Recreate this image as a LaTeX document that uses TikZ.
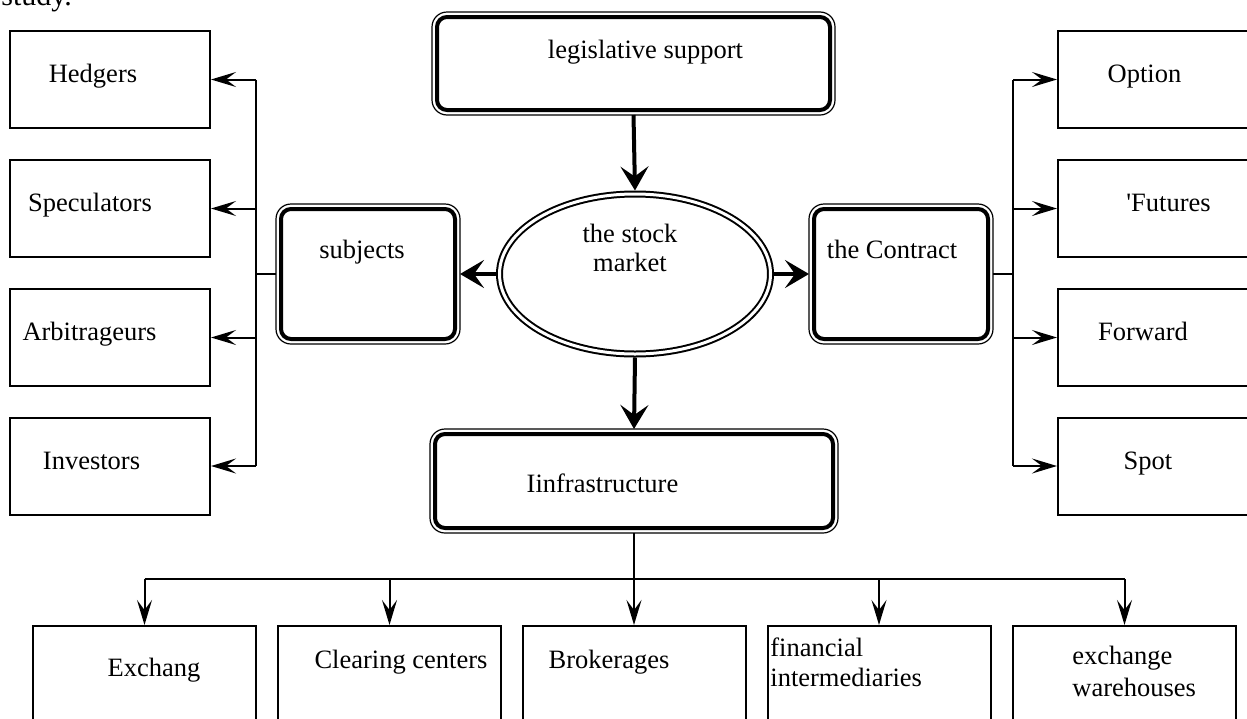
\documentclass[tikz,border=0pt]{standalone}
\usepackage{fontspec}
\setmainfont{Liberation Serif}
\usetikzlibrary{arrows.meta,shapes.geometric}
\begin{document}
\begin{tikzpicture}[x=0.5pt,y=-0.5pt,
  every node/.style={font=\fontsize{13.25pt}{15.9pt}\selectfont},
  txt/.style={anchor=base, inner sep=0pt},
  txtl/.style={anchor=base west, inner sep=0pt},
  plainbox/.style={draw, line width=1pt, minimum width=100pt, minimum height=48.5pt, inner sep=0pt},
  botbox/.style={draw, line width=1pt, minimum width=111.5pt, minimum height=90pt, inner sep=0pt},
  dblbox/.style={draw, line width=2pt, rounded corners=5pt, inner sep=0pt, outer sep=2.5pt},
  outerline/.style={line width=0.6pt, rounded corners=7.5pt},
  ellbox/.style={ellipse, draw, line width=1pt, double, double distance=1.5pt, inner sep=0pt,
    minimum width=135.5pt, minimum height=80pt, outer sep=1.75pt},
  thinarrow/.style={line width=1pt, -{Stealth[length=12.5pt,width=7.5pt,inset=5pt]}},
  thickarrow/.style={line width=2pt, -{Stealth[length=12pt,width=14pt,inset=5pt]}},
  wire/.style={line width=1pt},
  stub/.style={line width=0.7pt},
]
\useasboundingbox (0,0) rectangle (1247,718);
\clip (0,0) rectangle (1247,718);

% caption fragment
\node[txtl, font=\fontsize{15pt}{18pt}\selectfont] (study) at (1,5) {study.};

% central elements
\node[dblbox, minimum width=196.5pt, minimum height=46.5pt] (leg) at (633.5,63.5) {};
\draw[outerline] (leg.north west) rectangle (leg.south east);
\node[txt] (legt) at (645.5,58) {legislative support};

\node[ellbox] (ell) at (635,274) {};
\node[txt] (ellt1) at (630,242) {the stock};
\node[txt] (ellt2) at (630,271) {market};

\node[dblbox, minimum width=87pt, minimum height=65pt] (subj) at (368,274) {};
\draw[outerline] (subj.north west) rectangle (subj.south east);
\node[txt] (subjt) at (362,258) {subjects};

\node[dblbox, minimum width=87pt, minimum height=65pt] (contr) at (901,274) {};
\draw[outerline] (contr.north west) rectangle (contr.south east);
\node[txt] (contrt) at (892,258) {the Contract};

\node[dblbox, minimum width=199pt, minimum height=47pt] (infra) at (634,481) {};
\draw[outerline] (infra.north west) rectangle (infra.south east);
\node[txt] (infrat) at (602.5,492) {Iinfrastructure};

% left column
\node[plainbox] (hed) at (110,79.5) {};
\node[txt] (hedt) at (93,82) {Hedgers};
\node[plainbox] (spe) at (110,208.5) {};
\node[txt] (spet) at (90,211) {Speculators};
\node[plainbox] (arb) at (110,337.5) {};
\node[txt] (arbt) at (89.5,340) {Arbitrageurs};
\node[plainbox] (inv) at (110,466) {};
\node[txt] (invt) at (91.5,469) {Investors};

% right column
\node[plainbox] (opt) at (1158,79.5) {};
\node[txt] (optt) at (1144.5,82) {Option};
\node[plainbox] (fut) at (1158,208.5) {};
\node[txt] (futt) at (1168.5,211) {\XeTeXglyph\XeTeXcharglyph"27 Futures};
\node[plainbox] (fwd) at (1158,337.5) {};
\node[txt] (fwdt) at (1143,340) {Forward};
\node[plainbox] (spot) at (1158,466) {};
\node[txt] (spott) at (1148,469) {Spot};

% bottom row
\node[botbox] (exch) at (144.5,716) {};
\node[txt] (excht) at (154,676) {Exchang};
\node[botbox] (clear) at (389.5,716) {};
\node[txt] (cleart) at (401,668) {Clearing centers};
\node[botbox] (brok) at (634,716) {};
\node[txt] (brokt) at (609,668) {Brokerages};
\node[botbox] (fin) at (879,716) {};
\node[txtl] (fint1) at (770,656) {financial};
\node[txtl] (fint2) at (770,686) {intermediaries};
\node[botbox] (ware) at (1124.5,716) {};
\node[txtl] (waret1) at (1072,664) {exchange};
\node[txtl] (waret2) at (1072,696) {warehouses};

% thick connectors
\draw[thickarrow] (leg.south) -- (ell.north);
\draw[thickarrow] (ell.south) -- (infra.north);
\draw[thickarrow] (ell.west) -- (subj.east);
\draw[thickarrow] (ell.east) -- (contr.west);

% left trunk
\coordinate (Lx) at (256,0);
\draw[stub] (subj.west) -- (subj.west -| Lx);
\draw[wire] (hed.east -| Lx) -- (inv.east -| Lx);
\draw[thinarrow] (hed.east -| Lx) -- (hed.east);
\draw[thinarrow] (spe.east -| Lx) -- (spe.east);
\draw[thinarrow] (arb.east -| Lx) -- (arb.east);
\draw[thinarrow] (inv.east -| Lx) -- (inv.east);

% right trunk
\coordinate (Rx) at (1013,0);
\draw[stub] (contr.east) -- (contr.east -| Rx);
\draw[wire] (opt.west -| Rx) -- (spot.west -| Rx);
\draw[thinarrow] (opt.west -| Rx) -- (opt.west);
\draw[thinarrow] (fut.west -| Rx) -- (fut.west);
\draw[thinarrow] (fwd.west -| Rx) -- (fwd.west);
\draw[thinarrow] (spot.west -| Rx) -- (spot.west);

% bottom bus
\coordinate (bus) at (0,579);
\draw[wire] (infra.south) -- (infra.south |- bus);
\draw[wire] (exch.north |- bus) -- (ware.north |- bus);
\draw[thinarrow] (exch.north |- bus) -- (exch.north);
\draw[thinarrow] (clear.north |- bus) -- (clear.north);
\draw[thinarrow] (brok.north |- bus) -- (brok.north);
\draw[thinarrow] (fin.north |- bus) -- (fin.north);
\draw[thinarrow] (ware.north |- bus) -- (ware.north);
\end{tikzpicture}
\end{document}
